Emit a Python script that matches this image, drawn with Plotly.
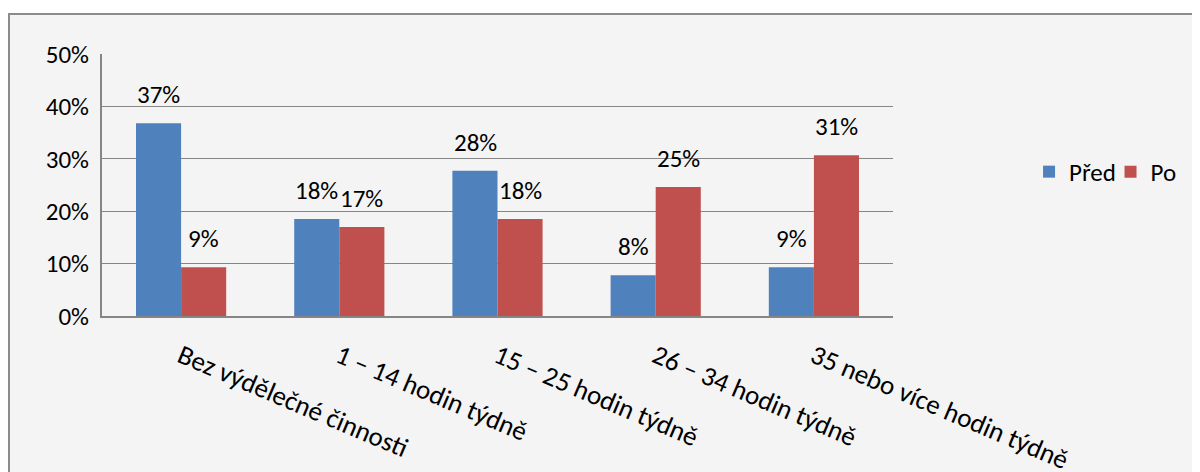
import plotly.graph_objects as go

categories = [
    "Bez výdělečné činnosti",
    "1 – 14 hodin týdně",
    "15 – 25 hodin týdně",
    "26 – 34 hodin týdně",
    "35 nebo více hodin týdně",
]
pred_values = [0.368, 0.185, 0.277, 0.078, 0.093]
po_values = [0.093, 0.170, 0.185, 0.246, 0.307]
pred_labels = ["37%", "18%", "28%", "8%", "9%"]
po_labels = ["9%", "17%", "18%", "25%", "31%"]
y_ticks = [0, 0.1, 0.2, 0.3, 0.4, 0.5]

# page body has an 8px margin, so the figure starts at (8, 8)
W, H = 1192, 464
L, T = 94, 46
pw, ph = 791, 262
R, B = W - L - pw, H - T - ph
font = "Carlito, Lato, 'Open Sans', sans-serif"
fs = 25

fig = go.Figure()
fig.add_trace(go.Bar(
    x=categories, y=pred_values, name="Před",
    marker=dict(color="#4F81BD", line=dict(width=0)),
    legend="legend",
))
fig.add_trace(go.Bar(
    x=categories, y=po_values, name="Po",
    marker=dict(color="#C0504D", line=dict(width=0)),
    legend="legend2",
))

# data labels above the bars
for vals, labels, shift in [(pred_values, pred_labels, -22.5), (po_values, po_labels, 22.5)]:
    for cat, v, lab in zip(categories, vals, labels):
        fig.add_annotation(
            x=cat, y=v, text=lab, showarrow=False,
            xshift=shift, yshift=11, yanchor="bottom",
            font=dict(size=fs, color="#000000"),
        )

# grey chart area with border, like the spreadsheet frame
fig.add_shape(
    type="rect", xref="paper", yref="paper", layer="below",
    x0=(1 - L) / pw, x1=(W + 10 - L) / pw,
    y0=-(H + 10 - T - ph) / ph, y1=(ph + T - 6) / ph,
    fillcolor="#F4F4F4", line=dict(color="#8C8C8C", width=2),
)

legend_style = dict(
    orientation="h", y=0.55, xanchor="left", yanchor="middle",
    bgcolor="rgba(0,0,0,0)", font=dict(size=fs), itemwidth=30,
)

fig.update_layout(
    width=W, height=H,
    margin=dict(l=L, r=R, t=T, b=B, autoexpand=False),
    paper_bgcolor="#FFFFFF",
    plot_bgcolor="#FFFFFF",
    font=dict(family=font, size=fs, color="#000000"),
    barmode="group",
    bargap=0.43,
    bargroupgap=0,
    showlegend=True,
    legend=dict(x=1.172, **legend_style),
    legend2=dict(x=1.275, **legend_style),
    xaxis=dict(
        tickangle=23, showgrid=False, showline=True,
        linecolor="#868686", linewidth=2,
        ticks="outside", ticklen=12, tickcolor="rgba(0,0,0,0)",
        tickfont=dict(size=27),
    ),
    yaxis=dict(
        range=[0, 0.5], tickvals=y_ticks, tickformat=".0%",
        showgrid=True, gridcolor="#868686", gridwidth=1,
        showline=True, linecolor="#868686", linewidth=2,
        ticks="outside", ticklen=6, tickcolor="rgba(0,0,0,0)",
        zeroline=False, tickfont=dict(size=fs),
    ),
)

fig.write_html("out.html")
